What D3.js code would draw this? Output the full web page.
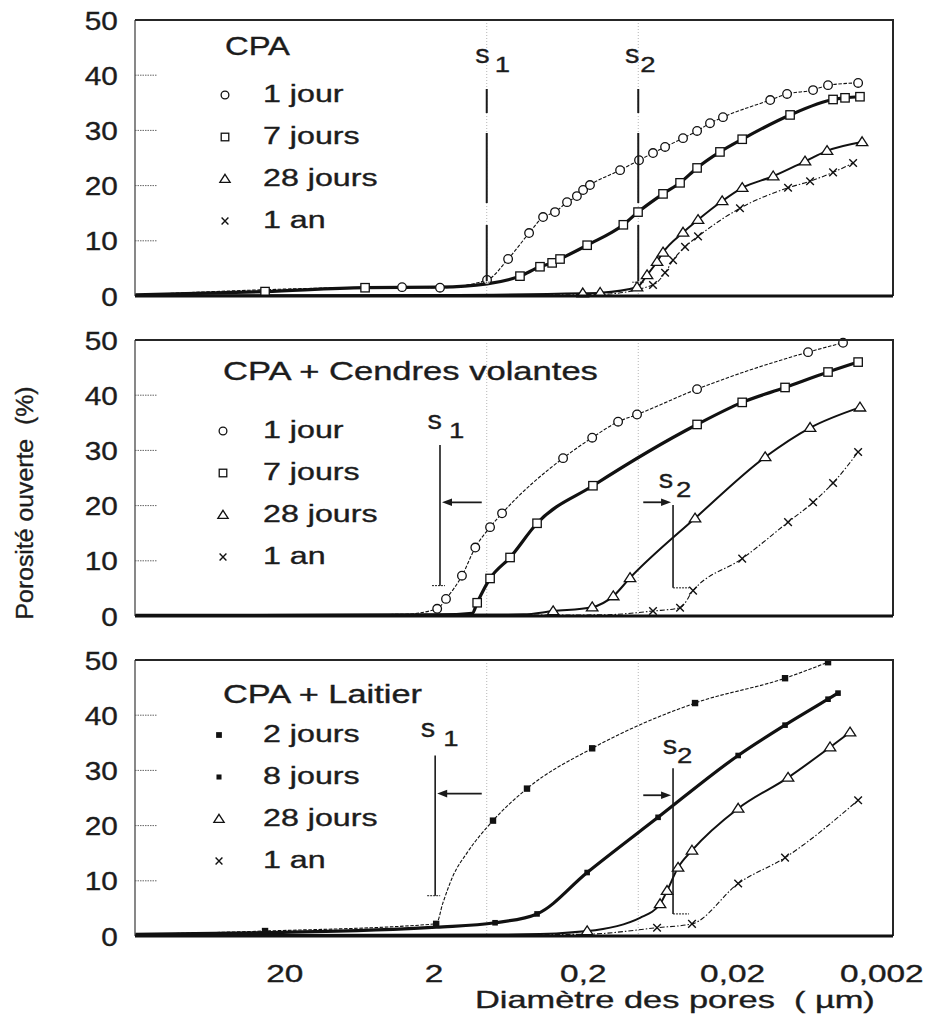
<!DOCTYPE html>
<html>
<head>
<meta charset="utf-8">
<script src="https://cdn.jsdelivr.net/npm/d3@7"></script>
<style>
  body { margin: 0; background: #fff; }
  svg { display: block; }
  text { font-family: "Liberation Sans", Arial, sans-serif; fill: #1c1c1c; stroke: #1c1c1c; stroke-width: 0.35px; white-space: pre; }
</style>
</head>
<body>
<svg id="chart" width="927" height="1018"></svg>
<script>
// ---- Data -------------------------------------------------------------
const panelTitles = ["CPA", "CPA + Cendres volantes", "CPA + Laitier"];
const ageLabelsCPA = ["1 jour", "7 jours", "28 jours", "1 an"];
const ageLabelsLaitier = ["2 jours", "8 jours", "28 jours", "1 an"];
const yTickValues = [0, 10, 20, 30, 40, 50];
const xTickValues = [20, 2, 0.2, 0.02, 0.002];
const xAxisTitle = "Diamètre des pores  ( µm)";
const yAxisTitle = "Porosité ouverte  (%)";

// Each point: [pore diameter (µm), open porosity (%), optional 0 = no marker]
const cpa1Jour = [[200,0.2,0],[3.25,1.6],[1.81,1.5],[0.876,2.9],[0.633,6.7],[0.458,11.4],[0.369,14.3],[0.307,15.2],[0.255,17.0],[0.219,18.1],[0.199,19.2],[0.179,20.1],[0.1125,22.8],[0.084,24.6],[0.0677,25.9],[0.0562,27.0],[0.0426,28.6],[0.0343,29.9],[0.0281,31.3],[0.023,32.4],[0.0111,35.5],[0.00856,36.6],[0.00573,37.3],[0.00455,38.2],[0.00286,38.6]];
const cpa7Jours = [[200,0.2,0],[26.9,0.8],[5.75,1.5],[1.81,1.6,0],[0.876,2.2,0],[0.527,3.6],[0.387,5.3],[0.321,6.0],[0.284,6.7],[0.187,9.2],[0.107,12.9],[0.0853,15.2],[0.058,18.5],[0.0446,20.5],[0.0343,23.2],[0.0241,26.1],[0.0171,28.4],[0.00817,32.8],[0.00421,35.6],[0.0035,35.9],[0.00278,36.1]];
const cpa28Jours = [[200,0.1,0],[1.81,0.2,0],[0.2,0.5],[0.153,0.6],[0.0866,1.6],[0.0742,3.8],[0.0636,6.2],[0.058,7.9],[0.0426,11.5],[0.0338,13.8],[0.0233,17.2],[0.0171,19.6],[0.0106,21.7],[0.00649,24.4],[0.00462,26.3],[0.00269,27.9]];
const cpa1An = [[200,0.1,0],[1.81,0.1,0],[0.153,0.3,0],[0.0677,2.0],[0.0562,4.2],[0.0497,6.5],[0.0413,8.9],[0.0338,10.8],[0.0177,15.9],[0.00843,19.6],[0.006,20.8],[0.00421,22.4],[0.00309,24.1]];

const cendres1Jour = [[200,0.1,0],[3.25,0.3,0],[1.89,1.3],[1.65,3.1],[1.29,7.3],[1.05,12.4],[0.836,16.1],[0.695,18.6],[0.271,28.6],[0.173,32.3],[0.116,35.2],[0.0866,36.5],[0.0343,41.1],[0.00619,47.8],[0.00361,49.5]];
const cendres7Jours = [[200,0.1,0],[1.81,0.2,0],[1.1,0.5,0],[1.02,2.4],[0.836,6.8],[0.614,10.6],[0.405,16.8],[0.171,23.6],[0.0343,34.7],[0.0171,38.7],[0.00883,41.4],[0.00455,44.2],[0.00286,46.0]];
const cendres28Jours = [[200,0.1,0],[0.5,0.3,0],[0.316,0.9],[0.173,1.6],[0.125,3.6],[0.0965,6.9],[0.0354,17.7],[0.012,28.8],[0.006,34.1],[0.00278,37.8]];
const cendres1An = [[200,0.1,0],[0.153,0.2,0],[0.0677,0.9],[0.0446,1.5],[0.0365,4.6],[0.0171,10.4],[0.00843,17.0],[0.00573,20.6],[0.00421,24.1],[0.00286,29.7]];

const laitier2Jours = [[200,0.3,0],[26.9,0.9],[1.92,2.2],[1.73,6.0,0],[1.48,10.9,0],[1.19,15.1,0],[0.799,20.9],[0.473,26.7],[0.173,34.0],[0.0354,42.2],[0.00883,46.7],[0.00455,49.6]];
const laitier8Jours = [[200,0.3,0],[26.9,0.6,0],[1.92,1.6,0],[0.774,2.4],[0.405,4.0],[0.187,11.5],[0.0626,21.5],[0.0182,32.7],[0.00883,38.2],[0.00455,42.9],[0.0039,44.0]];
const laitier28Jours = [[200,0.1,0],[0.5,0.3,0],[0.187,0.9],[0.0827,3.3,0],[0.0607,5.8],[0.0545,8.2],[0.046,12.4],[0.0371,15.5],[0.0182,23.1],[0.00843,28.7],[0.00441,34.2],[0.00324,36.9]];
const laitier1An = [[200,0.1,0],[0.2,0.3,0],[0.0636,1.5],[0.0371,2.2],[0.0182,9.5],[0.00883,14.2],[0.00286,24.6]];

// Threshold diameters s1, s2 (µm)
const cpaThresholds = [0.88, 0.085];
const cendresThresholds = [1.81, 0.0497];
const laitierThresholds = [1.95, 0.0497];

// ---- Layout -----------------------------------------------------------
const left = 135, right = 893, plotH = 276, panelGap = 320, firstTop = 20;
const FONT = '"Liberation Sans", Arial, sans-serif';

const panels = [
  { title: panelTitles[0], titleW: 65, titleDy: 35, legendDy: 82, markerX: 225,
    labels: ageLabelsCPA, series: [cpa1Jour, cpa7Jours, cpa28Jours, cpa1An],
    markers: ["circle", "square", "triangle", "cross"], thresholds: cpaThresholds,
    marks: [ { top: 37.5, bottom: 2.5, label: 42.2, sDx: 3, subDx: 8, dashed: true },
             { top: 37.5, bottom: 2.5, label: 42.2, sDx: 1, subDx: 2, dashed: true } ] },
  { title: panelTitles[1], titleW: 375, titleDy: 40, legendDy: 98, markerX: 223,
    labels: ageLabelsCPA, series: [cendres1Jour, cendres7Jours, cendres28Jours, cendres1An],
    markers: ["circle", "square", "triangle", "cross"], thresholds: cendresThresholds,
    marks: [ { top: 31, bottom: 5.5, arrow: 20.6, label: 33.8, sDx: 2, subDx: 9 },
             { top: 20.1, bottom: 5.1, arrow: 20.6, label: 23.2, sDx: 0, subDx: 3 } ] },
  { title: panelTitles[2], titleW: 199, titleDy: 43, legendDy: 82, markerX: 219,
    labels: ageLabelsLaitier, series: [laitier2Jours, laitier8Jours, laitier28Jours, laitier1An],
    markers: ["fsquare", "fdot", "triangle", "cross"], thresholds: laitierThresholds,
    marks: [ { top: 32.7, bottom: 7.3, arrow: 25.8, label: 36, sDx: 0, subDx: 8 },
             { top: 30.4, bottom: 4, arrow: 25.5, label: 32.9, sDx: 4, subDx: 4 } ] }
];

const seriesStyles = [
  { w: 1.1, dash: "3.5,1.6" },
  { w: 3.2, dash: null },
  { w: 2, dash: null },
  { w: 1.1, dash: "5,2,1.5,2" }
];

const svg = d3.select("#chart");
const x = d3.scaleLog().domain([200, 0.00167]).range([left, right]);
const frLocale = d3.formatLocale({ decimal: ",", thousands: "\u00a0", grouping: [3], currency: ["", " €"] });
const fmt = frLocale.format("~g");

function fitText(sel, width, sy) {
  const w = sel.node().getComputedTextLength();
  const base = sel.attr("data-base");
  sel.attr("transform", base + ` scale(${width / w},${sy || 1})`);
}
function addText(parent, px, py, str, size, anchor) {
  return parent.append("text")
    .attr("data-base", `translate(${px},${py})`)
    .attr("transform", `translate(${px},${py})`)
    .attr("font-size", size)
    .attr("text-anchor", anchor || "start")
    .text(str);
}

function drawMarker(g, type, cx, cy, s) {
  s = s || 1;
  const st = "#111";
  if (type === "circle") {
    g.append("circle").attr("cx", cx).attr("cy", cy).attr("r", 4.3 * s)
      .attr("fill", "#fff").attr("stroke", st).attr("stroke-width", 1.3);
  } else if (type === "square") {
    const h = 4.2 * s;
    g.append("rect").attr("x", cx - h).attr("y", cy - h).attr("width", 2 * h).attr("height", 2 * h)
      .attr("fill", "#fff").attr("stroke", st).attr("stroke-width", 1.3);
  } else if (type === "triangle") {
    const h = 5.2 * s;
    g.append("path").attr("d", `M${cx},${cy - h}L${cx + h * 1.1},${cy + h * 0.7}L${cx - h * 1.1},${cy + h * 0.7}Z`)
      .attr("fill", "#fff").attr("stroke", st).attr("stroke-width", 1.3);
  } else if (type === "cross") {
    const h = 3.8 * s;
    g.append("path").attr("d", `M${cx - h},${cy - h}L${cx + h},${cy + h}M${cx - h},${cy + h}L${cx + h},${cy - h}`)
      .attr("stroke", st).attr("stroke-width", 1.4).attr("fill", "none");
  } else if (type === "fsquare") {
    const h = 3.2 * s;
    g.append("rect").attr("x", cx - h).attr("y", cy - h).attr("width", 2 * h).attr("height", 2 * h).attr("fill", st);
  } else if (type === "fdot") {
    const h = 2.8 * s;
    g.append("rect").attr("x", cx - h).attr("y", cy - h).attr("width", 2 * h).attr("height", 2 * h).attr("fill", st);
  }
}

panels.forEach((p, i) => {
  const top = firstTop + i * panelGap, bottom = top + plotH;
  const y = d3.scaleLinear().domain([0, 50]).range([bottom, top]);
  const g = svg.append("g");

  // faint vertical guides at the CPA thresholds
  cpaThresholds.forEach(d => {
    g.append("line").attr("x1", x(d)).attr("x2", x(d)).attr("y1", top).attr("y2", bottom)
      .attr("stroke", "#b5b5b5").attr("stroke-width", 1).attr("stroke-dasharray", "1,2");
  });
  // short dotted stubs for the inner y ticks
  yTickValues.filter(v => v > 0 && v < 50).forEach(v => {
    g.append("line").attr("x1", left).attr("x2", left + 22).attr("y1", y(v)).attr("y2", y(v))
      .attr("stroke", "#666").attr("stroke-width", 1).attr("stroke-dasharray", "1.5,1");
  });

  // y axis labels
  const ay = g.append("g").attr("transform", `translate(${left},0)`)
    .call(d3.axisLeft(y).tickValues(yTickValues).tickSize(0).tickPadding(14.5));
  ay.select(".domain").remove();
  ay.attr("font-size", 25).attr("font-family", FONT);
  ay.selectAll("text").attr("fill", "#1c1c1c").attr("dy", "0.36em").attr("transform", "scale(1.19,1)");

  // curves
  const line = d3.line().x(d => x(d[0])).y(d => y(d[1])).curve(d3.curveMonotoneX);
  p.series.forEach((s, k) => {
    const st = seriesStyles[k];
    g.append("path").attr("d", line(s)).attr("fill", "none").attr("stroke", "#111")
      .attr("stroke-width", st.w).attr("stroke-dasharray", st.dash).attr("stroke-linejoin", "round");
  });
  p.series.forEach((s, k) => {
    s.filter(d => d[2] !== 0).forEach(d => drawMarker(g, p.markers[k], x(d[0]), y(d[1])));
  });

  // frame: light left edge, darker top/right, heavy baseline
  g.append("line").attr("x1", left).attr("x2", left).attr("y1", top).attr("y2", bottom)
    .attr("stroke", "#555").attr("stroke-width", 1.4);
  g.append("path").attr("d", `M${left},${top}H${right}V${bottom}`)
    .attr("fill", "none").attr("stroke", "#262626").attr("stroke-width", 2);
  g.append("line").attr("x1", left).attr("x2", right).attr("y1", bottom).attr("y2", bottom)
    .attr("stroke", "#111").attr("stroke-width", 3);

  // title and legend
  const t = addText(g, 225 - (i ? 2 : 0), top + p.titleDy, p.title, 25);
  fitText(t, p.titleW);
  p.labels.forEach((lab, k) => {
    const by = top + p.legendDy + k * 42;
    drawMarker(g, p.markers[k], p.markerX, by - 7, 0.9);
    addText(g, 263, by, lab, 23).attr("transform", `translate(263,${by}) scale(1.4,1)`);
  });

  // threshold markers s1 / s2
  p.thresholds.forEach((d, k) => {
    const m = p.marks[k];
    const xs = x(d);
    const a = g.append("g").attr("stroke", "#1a1a1a");
    if (m.dashed) {
      a.append("line").attr("x1", xs).attr("x2", xs).attr("y1", y(m.top)).attr("y2", y(m.bottom))
        .attr("stroke-width", 2).attr("stroke-dasharray", "24,20,70,22,56");
      a.append("line").attr("x1", xs - 6).attr("x2", xs + 6).attr("y1", y(m.bottom)).attr("y2", y(m.bottom))
        .attr("stroke-width", 1).attr("stroke-dasharray", "1.5,1");
    } else {
      a.append("line").attr("x1", xs).attr("x2", xs).attr("y1", y(m.top)).attr("y2", y(m.bottom))
        .attr("stroke-width", 1.6);
      const tx = k === 0 ? [xs - 8, xs + 5] : [xs, xs + 16];
      a.append("line").attr("x1", tx[0]).attr("x2", tx[1]).attr("y1", y(m.bottom)).attr("y2", y(m.bottom))
        .attr("stroke-width", 1).attr("stroke-dasharray", "2,1");
      // arrow from the CPA threshold towards this threshold
      const from = x(cpaThresholds[k]);
      const dir = k === 0 ? -1 : 1;
      const x0 = from + dir * 5, x1 = xs - dir * 2;
      const ya = y(m.arrow);
      a.append("line").attr("x1", x0).attr("x2", x1 - dir * 6).attr("y1", ya).attr("y2", ya).attr("stroke-width", 1.8);
      a.append("path").attr("d", `M${x1},${ya}L${x1 - dir * 10},${ya - 3.8}L${x1 - dir * 10},${ya + 3.8}Z`)
        .attr("fill", "#1a1a1a").attr("stroke", "none");
    }
    const ly = y(m.label);
    addText(g, xs + m.sDx, ly, "s", 25, "end").attr("transform", `translate(${xs + m.sDx},${ly}) scale(1.15,1)`);
    addText(g, xs + m.subDx, ly + 9, String(k + 1), 22).attr("transform", `translate(${xs + m.subDx},${ly + 9}) scale(1.25,1)`);
  });

  // x axis on the bottom panel
  if (i === panels.length - 1) {
    const ax = g.append("g").attr("transform", `translate(0,${bottom})`)
      .call(d3.axisBottom(x).tickValues(xTickValues).tickFormat(fmt).tickSize(0).tickPadding(29));
    ax.select(".domain").remove();
    ax.attr("font-size", 24).attr("font-family", FONT);
    ax.selectAll("text").attr("fill", "#1c1c1c").attr("transform", "scale(1.39,1)");
    const xt = addText(svg, 475, 1008, xAxisTitle, 23);
    fitText(xt, 400);
  }
});

// y axis title
const yt = svg.append("text")
  .attr("data-base", "translate(33,503) rotate(-90)")
  .attr("transform", "translate(33,503) rotate(-90)")
  .attr("font-size", 22).attr("text-anchor", "middle").text(yAxisTitle);
fitText(yt, 233, 1.05);
</script>
</body>
</html>
